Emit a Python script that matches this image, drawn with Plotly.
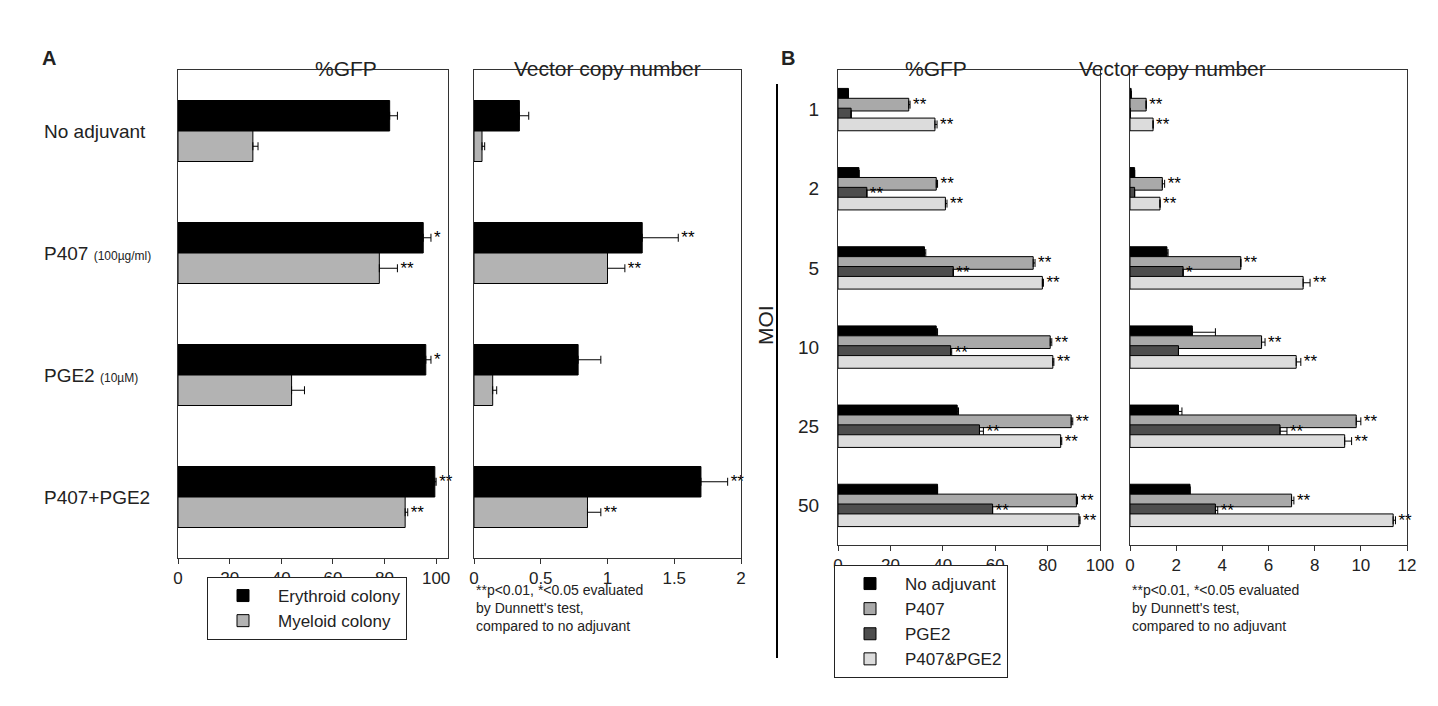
import plotly.graph_objects as go

W, H = 1438, 706

# Panel A data
a_cats = ['No adjuvant', 'P407', 'PGE2', 'P407+PGE2']
a_labels = ['No adjuvant', 'P407 <span style="font-size:12px">(100µg/ml)</span>',
            'PGE2 <span style="font-size:12px">(10µM)</span>', 'P407+PGE2']
a_gfp_ery = [82, 95, 96, 99.5]
a_gfp_ery_err = [3, 3, 2, 0.5]
a_gfp_mye = [29, 78, 44, 88]
a_gfp_mye_err = [2, 7, 5, 1]
a_gfp_ery_sig = ['', '*', '*', '**']
a_gfp_mye_sig = ['', '**', '', '**']
a_vcn_ery = [0.34, 1.26, 0.78, 1.70]
a_vcn_ery_err = [0.07, 0.27, 0.17, 0.2]
a_vcn_mye = [0.06, 1.0, 0.14, 0.85]
a_vcn_mye_err = [0.02, 0.13, 0.03, 0.1]
a_vcn_ery_sig = ['', '**', '', '**']
a_vcn_mye_sig = ['', '**', '', '**']

# Panel B data
b_moi = ['1', '2', '5', '10', '25', '50']
b_series = ['No adjuvant', 'P407', 'PGE2', 'P407&PGE2']
b_colors = ['#000000', '#a9a9a9', '#4d4d4d', '#dcdcdc']
b_gfp = [
    [4, 8, 33, 37.5, 45.5, 38],
    [27, 37.5, 74.5, 81, 89, 91],
    [5, 11, 44, 43, 54, 59],
    [37, 41, 78, 82, 85, 92],
]
b_gfp_err = [
    [0, 0, 0.5, 0.5, 0.5, 0],
    [0.5, 0.5, 0.7, 0.6, 0.6, 0.4],
    [0, 0, 0, 0.4, 1.5, 0],
    [0.8, 0.6, 0.4, 0.4, 0.4, 0.4],
]
b_gfp_sig = [
    ['', '', '', '', '', ''],
    ['**', '**', '**', '**', '**', '**'],
    ['', '**', '**', '**', '**', '**'],
    ['**', '**', '**', '**', '**', '**'],
]
b_vcn = [
    [0.05, 0.2, 1.6, 2.7, 2.1, 2.6],
    [0.7, 1.4, 4.8, 5.7, 9.8, 7.0],
    [0.02, 0.2, 2.3, 2.1, 6.5, 3.7],
    [1.0, 1.3, 7.5, 7.2, 9.3, 11.4],
]
b_vcn_err = [
    [0, 0, 0.05, 1.0, 0.15, 0],
    [0, 0.1, 0, 0.15, 0.2, 0.1],
    [0, 0, 0, 0, 0.3, 0.1],
    [0, 0, 0.3, 0.2, 0.3, 0.1],
]
b_vcn_sig = [
    ['', '', '', '', '', ''],
    ['**', '**', '**', '**', '**', '**'],
    ['', '', '*', '', '**', '**'],
    ['**', '**', '**', '**', '**', '**'],
]

FONT = 'Liberation Sans, Arial, sans-serif'
fig = go.Figure()


def add_bar(x, err, sig, cats, color, name, ax, og, legend=None, showlegend=False, width=None):
    xa, ya = ax
    tot = [v + e for v, e in zip(x, err)]
    # invisible carrier for the significance stars
    fig.add_trace(go.Bar(y=cats, x=tot, orientation='h', offsetgroup=og, base=0, width=width,
                         marker=dict(color='rgba(0,0,0,0)', line=dict(width=0)),
                         text=sig, textposition='outside', cliponaxis=False, constraintext='none',
                         textfont=dict(size=17, color='black', family=FONT),
                         showlegend=False, hoverinfo='skip', xaxis=xa, yaxis=ya))
    fig.add_trace(go.Bar(y=cats, x=x, orientation='h', offsetgroup=og, base=0, name=name, width=width,
                         marker=dict(color=color, line=dict(color='black', width=1)),
                         error_x=dict(type='data', array=err, arrayminus=[0] * len(err),
                                      symmetric=False, color='black', thickness=1, width=4),
                         showlegend=showlegend, legend=legend, xaxis=xa, yaxis=ya))


# Panel A
add_bar(a_gfp_ery, a_gfp_ery_err, a_gfp_ery_sig, a_cats, 'black', 'Erythroid colony', ('x', 'y'), 'a1', 'legend', True)
add_bar(a_gfp_mye, a_gfp_mye_err, a_gfp_mye_sig, a_cats, '#b3b3b3', 'Myeloid colony', ('x', 'y'), 'a2', 'legend', True)
add_bar(a_vcn_ery, a_vcn_ery_err, a_vcn_ery_sig, a_cats, 'black', 'Erythroid colony', ('x2', 'y2'), 'a1')
add_bar(a_vcn_mye, a_vcn_mye_err, a_vcn_mye_sig, a_cats, '#b3b3b3', 'Myeloid colony', ('x2', 'y2'), 'a2')

# Panel B
for i, s in enumerate(b_series):
    add_bar(b_gfp[i], b_gfp_err[i], b_gfp_sig[i], b_moi, b_colors[i], s, ('x3', 'y3'), 'b%d' % i, 'legend2', True, 0.16)
    add_bar(b_vcn[i], b_vcn_err[i], b_vcn_sig[i], b_moi, b_colors[i], s, ('x4', 'y4'), 'b%d' % i, width=0.16)

OX, OY = 8, 8  # page body margin


def px(v):
    return (v - OX) / W


def py(v):
    return 1 - (v - OY) / H


axis_common = dict(showline=True, linecolor='#333', linewidth=1, mirror=True,
                   showgrid=False, zeroline=False,
                   tickfont=dict(size=17, family=FONT, color='#222'))
xt = dict(ticks='outside', ticklen=5, tickcolor='#333')
yt = dict(ticks='', autorange='reversed', type='category')

fig.update_layout(
    width=W, height=H, margin=dict(l=0, r=0, t=0, b=0, autoexpand=False),
    plot_bgcolor='white', paper_bgcolor='white',
    barmode='group', bargap=0.5, bargroupgap=0,
    font=dict(family=FONT, color='#222'),
    xaxis=dict(domain=[px(178), px(448)], range=[0, 104.6], dtick=20, anchor='y', **axis_common, **xt),
    yaxis=dict(domain=[py(558), py(70)], anchor='x', showticklabels=False, **axis_common, **yt),
    xaxis2=dict(domain=[px(474), px(741)], range=[0, 2], dtick=0.5, anchor='y2', **axis_common, **xt),
    yaxis2=dict(domain=[py(558), py(70)], anchor='x2', showticklabels=False, **axis_common, **yt),
    xaxis3=dict(domain=[px(838), px(1100)], range=[0, 100], dtick=20, anchor='y3', **axis_common, **xt),
    yaxis3=dict(domain=[py(545), py(70)], anchor='x3', showticklabels=True, ticklabelstandoff=14,
                **{**axis_common, 'tickfont': dict(size=19, family=FONT, color='#222')}, **yt),
    xaxis4=dict(domain=[px(1130), px(1407)], range=[0, 12], dtick=2, anchor='y4', **axis_common, **xt),
    yaxis4=dict(domain=[py(545), py(70)], anchor='x4', showticklabels=False, **axis_common, **yt),
    legend=dict(x=px(207), y=py(577), xanchor='left', yanchor='top', bordercolor='#222', borderwidth=1,
                font=dict(size=17, family=FONT), tracegroupgap=0, itemwidth=60),
    legend2=dict(x=px(834), y=py(565), xanchor='left', yanchor='top', bordercolor='#222', borderwidth=1,
                 font=dict(size=17, family=FONT), tracegroupgap=0, itemwidth=60),
)

ann = []
for text, x, y in [('%GFP', 313, 55), ('Vector copy number', 607, 55),
                   ('%GFP', 969, 55), ('Vector copy number', 1268, 55)]:
    ann.append(dict(text=text, x=px(x), y=py(y), xref='paper', yref='paper', showarrow=False,
                    font=dict(size=21, family=FONT)))
ann.append(dict(text='<b>A</b>', x=px(40), y=py(45), xref='paper', yref='paper', showarrow=False,
                font=dict(size=20, family=FONT)))
ann.append(dict(text='<b>B</b>', x=px(788), y=py(45), xref='paper', yref='paper', showarrow=False,
                font=dict(size=20, family=FONT)))
for c, lab in zip(a_cats, a_labels):
    ann.append(dict(text=lab, x=px(42), y=c, xref='paper', yref='y', xanchor='left', showarrow=False,
                    font=dict(size=19, family=FONT)))
ann.append(dict(text='MOI', x=px(765), y=py(325), xref='paper', yref='paper', showarrow=False,
                textangle=-90, font=dict(size=21, family=FONT)))
note = "**p<0.01, *<0.05 evaluated<br>by Dunnett's test,<br>compared to no adjuvant"
for x in (474, 1130):
    ann.append(dict(text=note, x=px(x), y=py(580), xref='paper', yref='paper', xanchor='left',
                    yanchor='top', align='left', showarrow=False, font=dict(size=14, family=FONT)))
fig.update_layout(annotations=ann,
                  shapes=[dict(type='line', xref='paper', yref='paper', x0=px(777), x1=px(777),
                               y0=py(84), y1=py(658), line=dict(color='black', width=2))])

fig.write_html("out.html")
